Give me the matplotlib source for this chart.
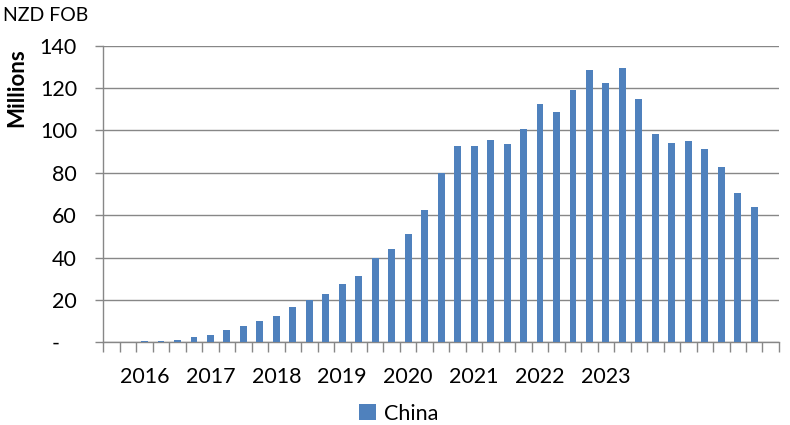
import numpy as np
import matplotlib
matplotlib.use("Agg")
import matplotlib.pyplot as plt
from matplotlib.patches import Patch

plt.rcParams['font.family'] = ['Lato', 'DejaVu Sans']

# quarterly categories, 2015 Q3 .. 2025 Q3
quarters = [f"{y} Q{q}" for y in range(2015, 2026) for q in range(1, 5)][2:43]
china = [0, 0, 0.6, 0.6, 1.1, 2.5, 3.5, 5.8, 7.7, 10.1, 12.4, 16.7, 19.8, 22.8,
         27.5, 31.3, 39.8, 44.0, 51.1, 62.5, 79.8, 92.7, 92.7, 95.5, 93.6, 100.7,
         112.5, 108.7, 119.1, 128.5, 122.4, 129.5, 114.8, 98.3, 94.1, 95.0, 91.2,
         82.7, 70.5, 63.9, 0]
year_labels = ["2016", "2017", "2018", "2019", "2020", "2021", "2022", "2023"]

blue = '#4F81BD'
grey = '#878787'

fig = plt.figure(figsize=(7.9, 4.25), dpi=100)
ax = fig.add_axes([0.1308, 0.1946, 0.986 - 0.1308, 0.8925 - 0.1946])

x = np.arange(len(quarters))
ax.bar(x, china, width=0.42, color=blue, zorder=3)

ax.set_xlim(-0.5, len(quarters) - 0.5)
ax.set_ylim(0, 140)
ax.set_yticks(np.arange(0, 141, 20))
ax.set_yticklabels(['-   '] + [str(v) for v in range(20, 141, 20)])
ax.yaxis.grid(True, color=grey, lw=1, zorder=0)

# tick marks on category boundaries, year labels under first quarter
ax.set_xticks(np.arange(-0.5, len(quarters)), minor=True)
pos = [quarters.index(f"{y} Q1") for y in year_labels]
ax.set_xticks(pos)
ax.set_xticklabels(year_labels)
ax.tick_params(axis='x', which='major', length=0, pad=18, labelsize=15.5)
ax.tick_params(axis='x', which='minor', length=7, color=grey, width=1)
ax.tick_params(axis='y', length=6, color=grey, width=1, pad=13, labelsize=15.5)

for s in ['top', 'right']:
    ax.spines[s].set_visible(False)
for s in ['left', 'bottom']:
    ax.spines[s].set_color(grey)
    ax.spines[s].set_linewidth(1)

ax.set_ylabel('Millions', fontsize=16, fontweight='bold')
ax.yaxis.set_label_coords(-0.113, 0.86)
fig.text(0.004, 0.9635, 'NZD FOB', fontsize=14, va='center', ha='left')

fig.legend(handles=[Patch(facecolor=blue, label='China')], loc='center',
           bbox_to_anchor=(0.505, 0.027), frameon=False, fontsize=15.5,
           handlelength=0.75, handleheight=0.75, handletextpad=0.4)

fig.savefig('out.png', dpi=100)
